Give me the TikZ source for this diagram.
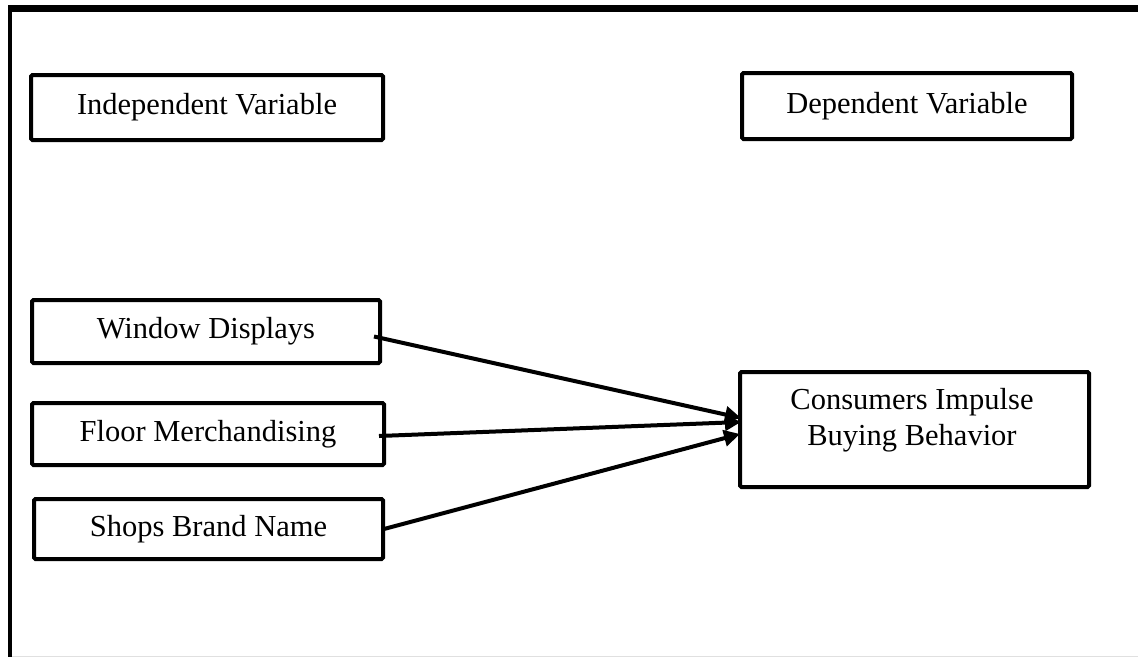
\documentclass[tikz,border=0pt]{standalone}
\usepackage{fontspec}
\setmainfont{Liberation Serif}
\usetikzlibrary{arrows.meta,calc}
\begin{document}
\begin{tikzpicture}[x=1pt,y=-1pt,
  varbox/.style={draw=black,line width=4pt,rounded corners=1.5pt,inner sep=0pt,
    font=\fontsize{30.5}{36}\selectfont,anchor=north west},
  link/.style={line width=4pt,-{Triangle[length=16pt,width=16pt]}}]
  \useasboundingbox (0,0) rectangle (1138,657);
  % page frame
  \fill[white] (0,0) rectangle (1138,657);
  \draw[line width=0.8pt,black!12] (9,656) -- (1138,656);
  \fill[black] (7.5,5) rectangle (12,657);
  \fill[black] (7.5,5) rectangle (1138,12);
  % heading boxes
  \node[varbox,minimum width=352pt,minimum height=65pt] (iv) at (29,73) {Independent Variable};
  \node[varbox,minimum width=330pt,minimum height=66pt] (dv) at (740,71) {Dependent Variable};
  % independent variables
  \node[varbox,minimum width=348pt,minimum height=63pt] (wd) at (30,298) {Window Displays};
  \node[varbox,minimum width=352pt,minimum height=62pt] (fm) at (30,401) {Floor Merchandising};
  \node[varbox,minimum width=349pt,minimum height=60pt] (sb) at (32,497) {Shops Brand Name};
  % dependent variable
  \node[varbox,minimum width=349pt,minimum height=115pt] (cb) at (738,370) {};
  \node[font=\fontsize{30.5}{36}\selectfont,align=center,inner sep=0pt] (cbt) at (912,420)
    {Consumers Impulse\\Buying Behavior};
  % connector ends
  \coordinate (wdS) at ($(wd.east)+(-8,5)$);
  \coordinate (fmS) at ($(fm.east)+(-7,2)$);
  \coordinate (sbS) at ($(sb.east)+(-1,0)$);
  \coordinate (wdE) at (741,418);
  \coordinate (fmE) at (741,422);
  \coordinate (sbE) at (740,434);
  \draw[link] (wdS) -- (wdE);
  \draw[link] (fmS) -- (fmE);
  \draw[link] (sbS) -- (sbE);
\end{tikzpicture}
\end{document}
